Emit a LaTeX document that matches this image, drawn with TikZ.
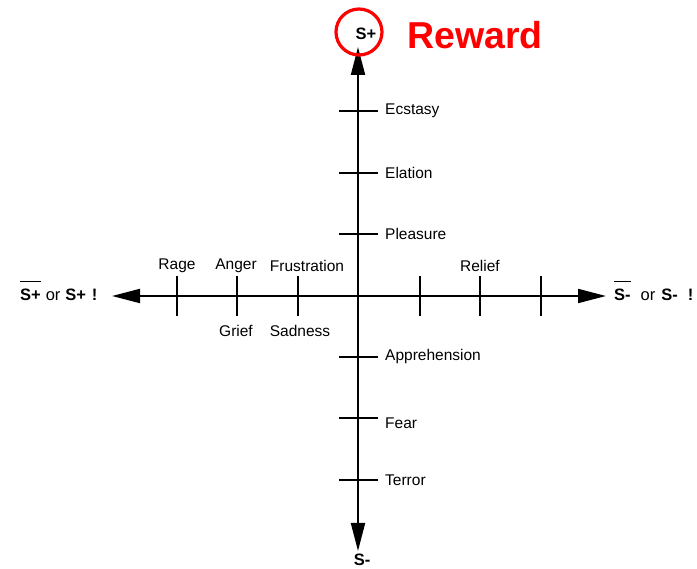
\documentclass[tikz,border=0pt]{standalone}
\usepackage{fontspec}
\setmainfont{Liberation Sans}
\usetikzlibrary{arrows.meta}
\newcommand\obar[1]{\vbox{\hrule height 1.5pt\kern 7pt\hbox{#1}}}
\begin{document}
\begin{tikzpicture}[x=1pt,y=-1pt,
  axis/.style={line width=1.9pt,-{Triangle[length=28pt,width=14pt]}},
  tick/.style={line width=1.2pt},
  lbl/.style={font=\fontsize{15.5}{17}\selectfont,inner sep=0pt},
  blbl/.style={font=\fontsize{16.5}{18}\selectfont\bfseries,inner sep=0pt},
  elbl/.style={font=\fontsize{16.5}{18}\selectfont,inner sep=0pt}]
\useasboundingbox (0,0) rectangle (697,569);
% axes
\coordinate (O) at (358,296);
\coordinate (top) at (358,47);
\coordinate (bot) at (358,551);
\coordinate (lft) at (112,296);
\coordinate (rgt) at (606,296);
\draw[axis] (O) -- (top);
\draw[axis] (O) -- (bot);
\draw[axis] (O) -- (lft);
\draw[axis] (O) -- (rgt);
% vertical ticks
\foreach \n/\y in {ec/111,el/173,pl/234,ap/357,fe/418,te/480}{
  \coordinate (\n a) at (339,\y);
  \coordinate (\n b) at (378,\y);
  \draw[tick] (\n a) -- (\n b);
}
% horizontal ticks
\foreach \n/\x in {ra/177,an/237,fr/298,h1/420,h2/480,h3/541}{
  \coordinate (\n a) at (\x,276);
  \coordinate (\n b) at (\x,316);
  \draw[tick] (\n a) -- (\n b);
}
% vertical labels
\node[lbl,anchor=west] (lec) at (385,111) {Ecstasy};
\node[lbl,anchor=west] (lel) at (385,173) {Elation};
\node[lbl,anchor=west] (lpl) at (385,234) {Pleasure};
\node[lbl,anchor=west] (lap) at (385,356) {Apprehension};
\node[lbl,anchor=west] (lfe) at (385,423) {Fear};
\node[lbl,anchor=west] (lte) at (385,480) {Terror};
% horizontal labels
\node[lbl] (lra) at (177,266) {Rage};
\node[lbl] (lan) at (236,266) {Anger};
\node[lbl] (lfr) at (307,266) {Frustration};
\node[lbl] (lre) at (480,266) {Relief};
\node[lbl] (lgr) at (236,331) {Grief};
\node[lbl] (lsa) at (300,331) {Sadness};
% ends
\node[blbl] (splus) at (366,34) {S+};
\draw[red,line width=3.2pt] (359,32) circle (23);
\node[font=\fontsize{37.5}{40}\selectfont\bfseries,text=red,anchor=west,inner sep=0pt] (rew) at (407,35) {Reward};
\node[blbl] (sminus) at (362,560) {S-};
\node[elbl,anchor=base west] (lend) at (20,301) {\obar{\bfseries S+}\hspace{0.3em}or\hspace{0.3em}{\bfseries S+\hspace{0.35em}!}};
\node[elbl,anchor=base west] (rend) at (614,301) {\obar{\bfseries S-}\hspace{10pt}or\hspace{6pt}{\bfseries S-\hspace{10pt}!}};
\end{tikzpicture}
\end{document}
